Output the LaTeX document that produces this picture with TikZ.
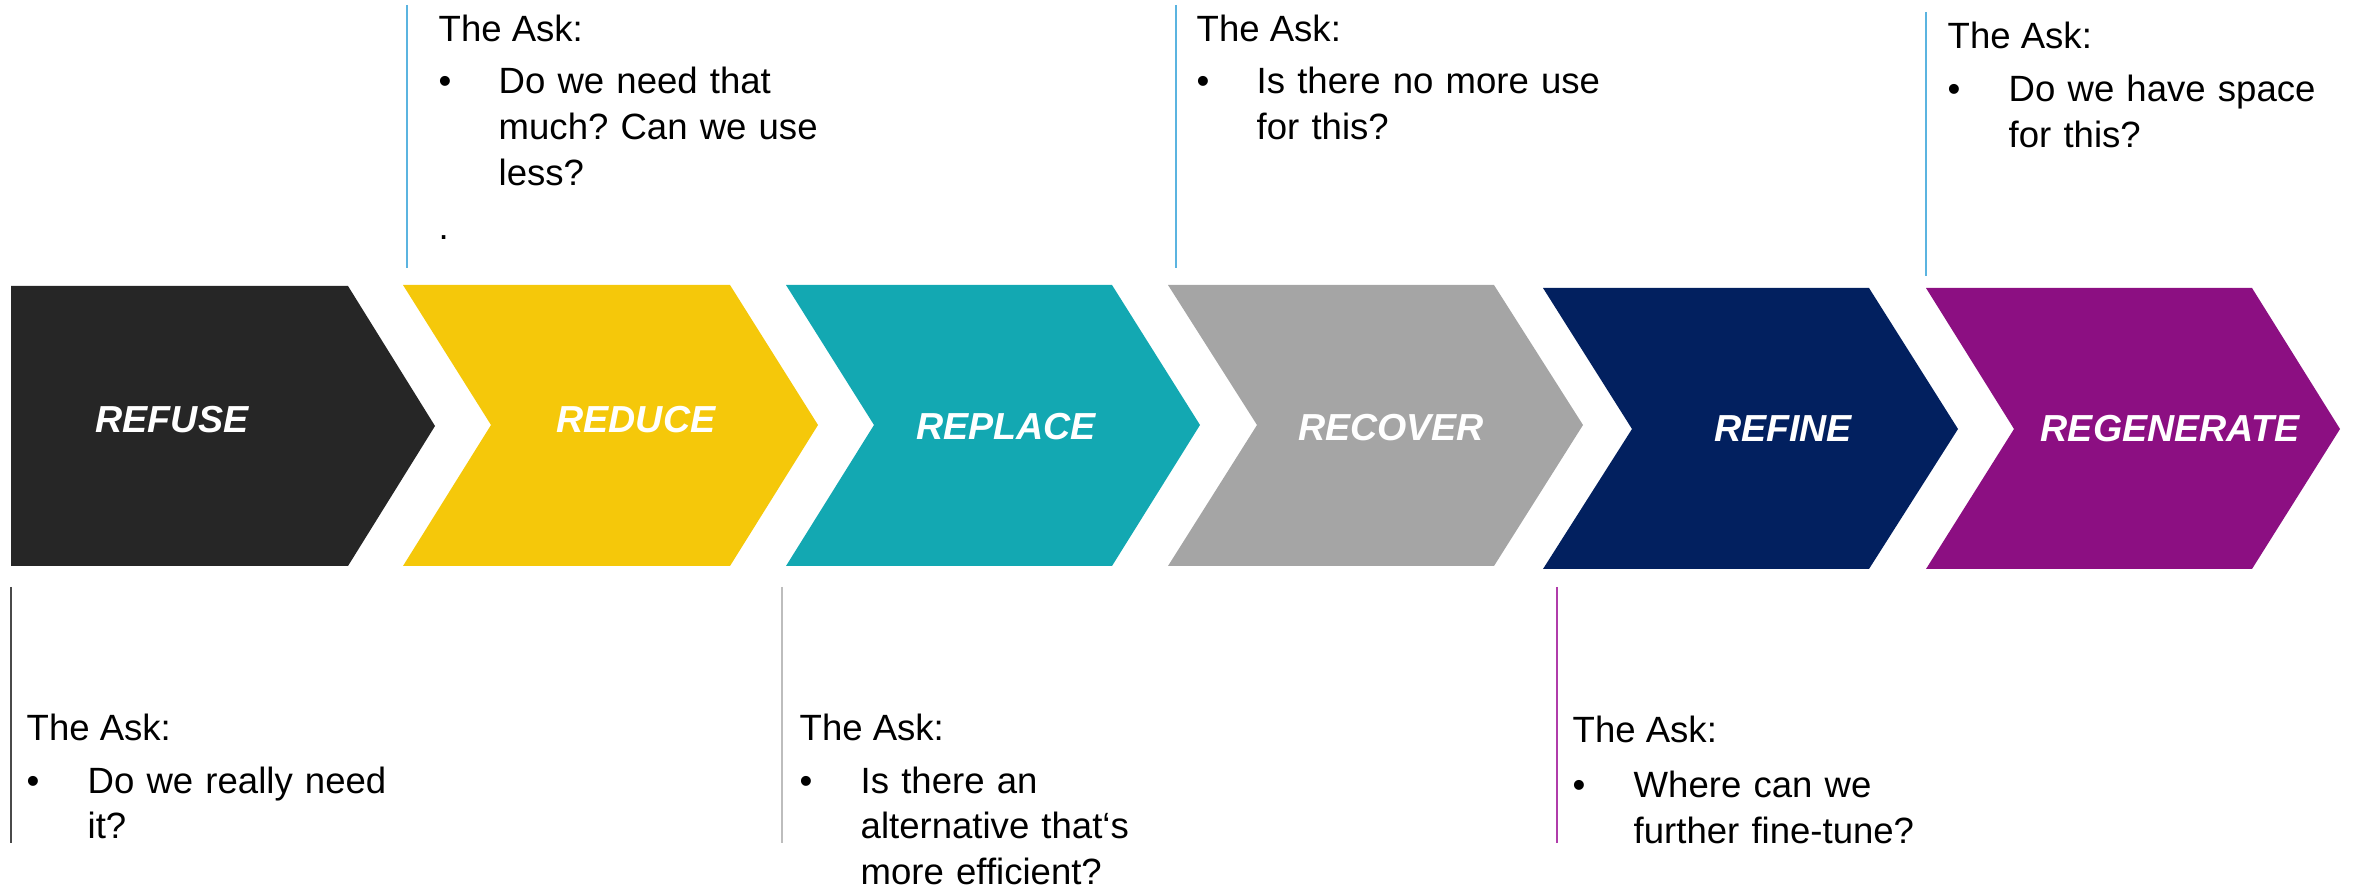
\documentclass[tikz,border=0pt]{standalone}
\usepackage{fontspec}
\setmainfont{Liberation Sans}
\frenchspacing

\definecolor{refusecol}{HTML}{262626}
\definecolor{reducecol}{HTML}{F5C80A}
\definecolor{replacecol}{HTML}{13A8B2}
\definecolor{recovercol}{HTML}{A5A5A5}
\definecolor{refinecol}{HTML}{02205F}
\definecolor{regencol}{HTML}{8C0F82}
\definecolor{skyline}{HTML}{5BB4E0}
\definecolor{darkline}{HTML}{4A4A4A}
\definecolor{greyline}{HTML}{BDBDBD}
\definecolor{purpleline}{HTML}{B03CAA}

\tikzstyle{stage} = [font=\fontsize{10.7}{12}\selectfont\bfseries\itshape,text=white,anchor=base,inner sep=0pt]
\tikzstyle{asktitle} = [font=\fontsize{10.4}{12.95}\selectfont,anchor=base west,inner sep=0pt]
\tikzstyle{askbul} = [font=\fontsize{10.4}{12.95}\selectfont,anchor=base west,inner sep=0pt]
\tikzstyle{asktext} = [font=\fontsize{10.4}{12.95}\selectfont,anchor=base west,inner sep=0pt,align=left,text width=4cm]
\tikzstyle{askline} = [line width=0.4pt]

\begin{document}
\begin{tikzpicture}[x=0.1mm,y=-0.1mm]
	\useasboundingbox (0,0) rectangle (2356,889);
	% chevrons
	\fill [refusecol] (11,286) -- (348,286) -- (435,426) -- (348,566) -- (11,566) -- cycle;
	\fill [reducecol] (403,285) -- (730,285) -- (818,425) -- (730,566) -- (403,566) -- (491,425) -- cycle;
	\fill [replacecol] (786,285) -- (1112,285) -- (1200,425) -- (1112,566) -- (786,566) -- (874,425) -- cycle;
	\fill [recovercol] (1168,285) -- (1494,285) -- (1583,425) -- (1494,566) -- (1168,566) -- (1257,425) -- cycle;
	\fill [refinecol] (1543,288) -- (1869,288) -- (1958,429) -- (1869,569) -- (1543,569) -- (1632,429) -- cycle;
	\fill [regencol] (1926,288) -- (2252,288) -- (2340,429) -- (2252,569) -- (1926,569) -- (2014,429) -- cycle;
	\node (refuse) [stage] at (172,433) {REFUSE};
	\node (reduce) [stage] at (636,433) {REDUCE};
	\node (replace) [stage] at (1006,440) {REPLACE};
	\node (recover) [stage] at (1391,441) {RECOVER};
	\node (refine) [stage] at (1783,442) {REFINE};
	\node (regen) [stage] at (2170,442) {REGENERATE};
	% upper asks
	\coordinate (up2a) at (407,5);
	\coordinate (up2b) at (407,268);
	\draw [askline,skyline] (up2a) -- (up2b);
	\node (ask2) [asktitle] at (438,42) {The Ask:};
	\node (bul2) [askbul] at (438,94) {\textbullet};
	\node (txt2) [asktext] at (498,94) {Do we need that\\much? Can we use\\less?};
	\node (dot2) [asktitle] at (438,240) {.};
	\coordinate (up4a) at (1176,5);
	\coordinate (up4b) at (1176,268);
	\draw [askline,skyline] (up4a) -- (up4b);
	\node (ask4) [asktitle] at (1196,42) {The Ask:};
	\node (bul4) [askbul] at (1196,94) {\textbullet};
	\node (txt4) [asktext] at (1256,94) {Is there no more use\\for this?};
	\coordinate (up6a) at (1926,12);
	\coordinate (up6b) at (1926,276);
	\draw [askline,skyline] (up6a) -- (up6b);
	\node (ask6) [asktitle] at (1947,49) {The Ask:};
	\node (bul6) [askbul] at (1947,102) {\textbullet};
	\node (txt6) [asktext] at (2008,102) {Do we have space\\for this?};
	% lower asks
	\coordinate (lo1a) at (11,587);
	\coordinate (lo1b) at (11,843);
	\draw [askline,darkline] (lo1a) -- (lo1b);
	\node (ask1) [asktitle] at (26,741) {The Ask:};
	\node (bul1) [askbul] at (26,793) {\textbullet};
	\node (txt1) [asktext] at (87,793) {Do we really need\\it?};
	\coordinate (lo3a) at (782,587);
	\coordinate (lo3b) at (782,843);
	\draw [askline,greyline] (lo3a) -- (lo3b);
	\node (ask3) [asktitle] at (799,741) {The Ask:};
	\node (bul3) [askbul] at (799,793) {\textbullet};
	\node (txt3) [asktext] at (860,793) {Is there an\\alternative that‘s\\more efficient?};
	\coordinate (lo5a) at (1557,587);
	\coordinate (lo5b) at (1557,843);
	\draw [askline,purpleline] (lo5a) -- (lo5b);
	\node (ask5) [asktitle] at (1572,743) {The Ask:};
	\node (bul5) [askbul] at (1572,798) {\textbullet};
	\node (txt5) [asktext] at (1633,798) {Where can we\\further fine-tune?};
\end{tikzpicture}
\end{document}
